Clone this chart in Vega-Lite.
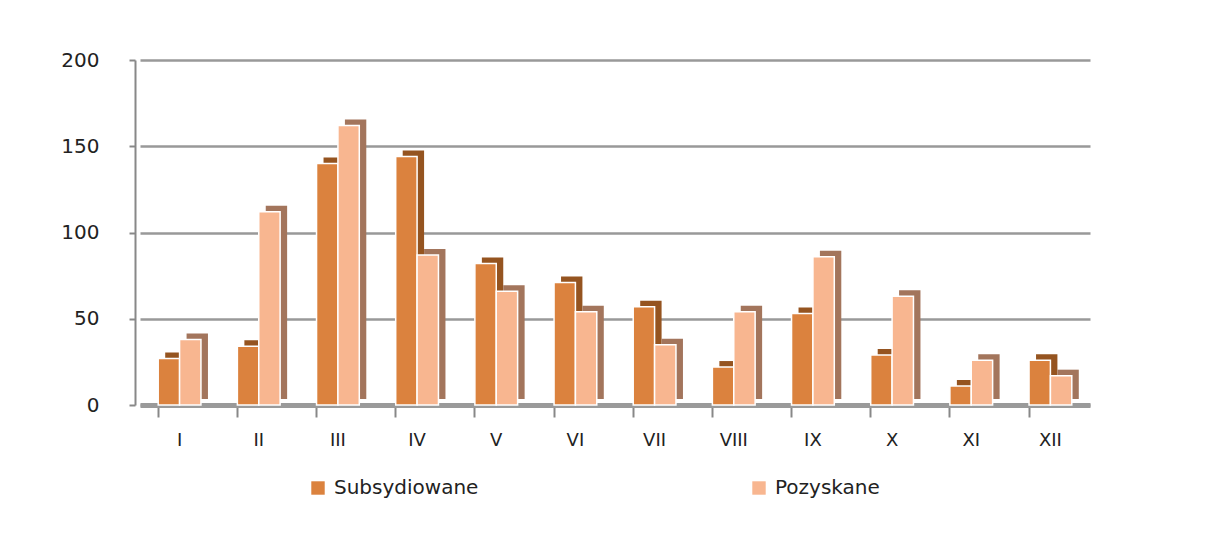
{
  "$schema": "https://vega.github.io/schema/vega-lite/v6.json",
  "width": 950,
  "height": 345,
  "autosize": {"type": "none"},
  "padding": {"left": 140, "top": 60, "right": 124, "bottom": 133},
  "background": "white",
  "config": {
    "view": {"stroke": null},
    "font": "DejaVu Sans"
  },
  "data": {
    "values": [
      {"month": "I", "series": "Subsydiowane", "value": 27},
      {"month": "I", "series": "Pozyskane", "value": 38},
      {"month": "II", "series": "Subsydiowane", "value": 34},
      {"month": "II", "series": "Pozyskane", "value": 112},
      {"month": "III", "series": "Subsydiowane", "value": 140},
      {"month": "III", "series": "Pozyskane", "value": 162},
      {"month": "IV", "series": "Subsydiowane", "value": 144},
      {"month": "IV", "series": "Pozyskane", "value": 87},
      {"month": "V", "series": "Subsydiowane", "value": 82},
      {"month": "V", "series": "Pozyskane", "value": 66},
      {"month": "VI", "series": "Subsydiowane", "value": 71},
      {"month": "VI", "series": "Pozyskane", "value": 54},
      {"month": "VII", "series": "Subsydiowane", "value": 57},
      {"month": "VII", "series": "Pozyskane", "value": 35},
      {"month": "VIII", "series": "Subsydiowane", "value": 22},
      {"month": "VIII", "series": "Pozyskane", "value": 54},
      {"month": "IX", "series": "Subsydiowane", "value": 53},
      {"month": "IX", "series": "Pozyskane", "value": 86},
      {"month": "X", "series": "Subsydiowane", "value": 29},
      {"month": "X", "series": "Pozyskane", "value": 63},
      {"month": "XI", "series": "Subsydiowane", "value": 11},
      {"month": "XI", "series": "Pozyskane", "value": 26},
      {"month": "XII", "series": "Subsydiowane", "value": 26},
      {"month": "XII", "series": "Pozyskane", "value": 17}
    ]
  },
  "encoding": {
    "x": {
      "field": "month",
      "type": "nominal",
      "sort": ["I","II","III","IV","V","VI","VII","VIII","IX","X","XI","XII"],
      "scale": {"paddingInner": 0.46, "paddingOuter": 0.23},
      "axis": {
        "title": null,
        "labelAngle": 0,
        "labelFontSize": 18,
        "labelColor": "#222",
        "labelPadding": 14,
        "bandPosition": 0,
        "tickColor": "#888",
        "tickWidth": 2,
        "tickSize": 12,
        "domainColor": "#9a9a9a",
        "domainWidth": 5
      }
    },
    "y": {
      "field": "value",
      "type": "quantitative",
      "scale": {"domain": [0, 200]},
      "axis": {
        "title": null,
        "values": [0, 50, 100, 150, 200],
        "labelFontSize": 20,
        "labelColor": "#222",
        "labelPadding": 30,
        "offset": 5,
        "gridColor": "#999",
        "gridWidth": 2.5,
        "domainColor": "#888",
        "domainWidth": 2,
        "tickColor": "#888",
        "tickWidth": 2,
        "tickSize": 6
      }
    }
  },
  "resolve": {"scale": {"xOffset": "independent"}},
  "layer": [
    {
      "mark": {"type": "bar", "yOffset": -6, "y2Offset": -6},
      "encoding": {
        "xOffset": {"field": "series", "sort": ["Subsydiowane", "Pozyskane"], "scale": {"range": [7, 49.75]}},
        "color": {
          "condition": {"test": "datum.series === 'Subsydiowane'", "value": "#955420"},
          "value": "#a3755c"
        }
      }
    },
    {
      "mark": {"type": "bar", "stroke": "white", "strokeWidth": 1.5},
      "encoding": {
        "xOffset": {"field": "series", "sort": ["Subsydiowane", "Pozyskane"]},
        "color": {
          "field": "series",
          "type": "nominal",
          "sort": ["Subsydiowane", "Pozyskane"],
          "scale": {"domain": ["Subsydiowane", "Pozyskane"], "range": ["#db823e", "#f8b690"]},
          "legend": {
            "title": null,
            "orient": "none",
            "direction": "horizontal",
            "legendX": 168,
            "legendY": 418,
            "symbolType": "square",
            "symbolSize": 180,
            "symbolStrokeWidth": 0,
            "labelFontSize": 20,
            "labelColor": "#222",
            "columnPadding": 270,
            "labelOffset": 6
          }
        }
      }
    }
  ]
}
